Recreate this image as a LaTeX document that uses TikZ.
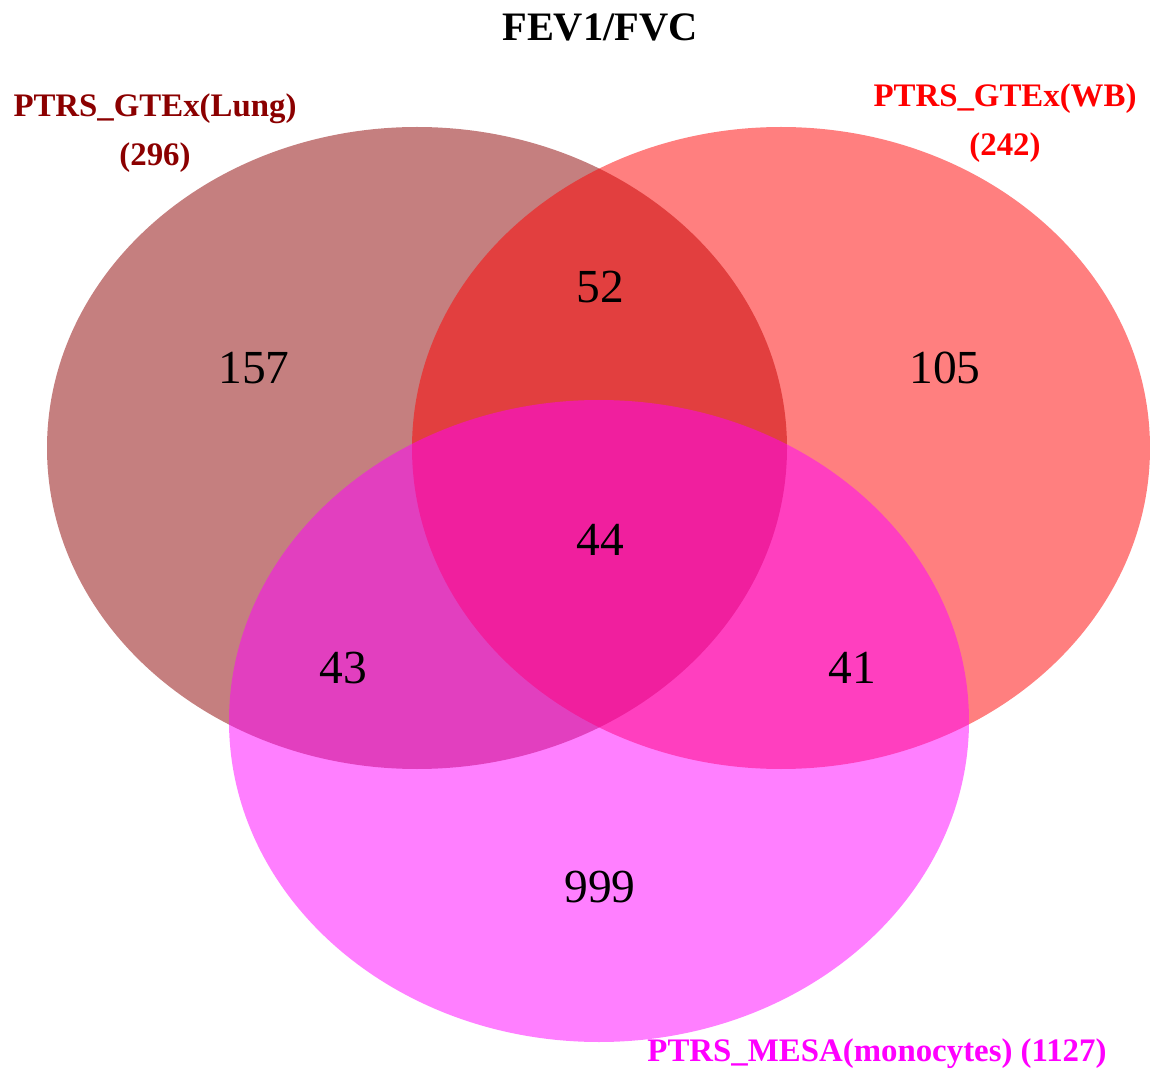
\documentclass[tikz,border=0pt]{standalone}
\usepackage{fontspec}
\setmainfont{Liberation Serif}
\definecolor{lungred}{RGB}{139,0,0}
\definecolor{wbred}{RGB}{255,0,0}
\definecolor{mesamag}{RGB}{255,0,255}

\begin{document}
\begin{tikzpicture}[x=0.02cm,y=-0.02cm]

\tikzset{
    set/.style={fill=#1,fill opacity=0.5,draw=none},
    count/.style={font=\fontsize{27}{30}\selectfont},
    setname/.style={font=\fontsize{18.7}{27.5}\selectfont\bfseries,text=#1,align=center}}

\useasboundingbox (0,0) rectangle (1150,1074);

\fill[set=lungred] (417,448) ellipse (370 and 321);
\fill[set=wbred] (781,448) ellipse (369 and 321);
\fill[set=mesamag] (599,721) ellipse (370 and 321);

\node[font=\fontsize{23}{26}\selectfont\bfseries] (title) at (600,27) {FEV1/FVC};

\node[setname=lungred] (lung) at (155,133) {PTRS\_GTEx(Lung)\\(296)};
\node[setname=wbred] (wb) at (1005,123) {PTRS\_GTEx(WB)\\(242)};
\node[setname=mesamag] (mesa) at (877,1054) {PTRS\_MESA(monocytes) (1127)};

\node[count] (n157) at (254,368) {157};
\node[count] (n52) at (600,287) {52};
\node[count] (n105) at (945,368) {105};
\node[count] (n44) at (600,540) {44};
\node[count] (n43) at (343,668) {43};
\node[count] (n41) at (852,668) {41};
\node[count] (n999) at (600,887) {999};

\end{tikzpicture}
\end{document}
